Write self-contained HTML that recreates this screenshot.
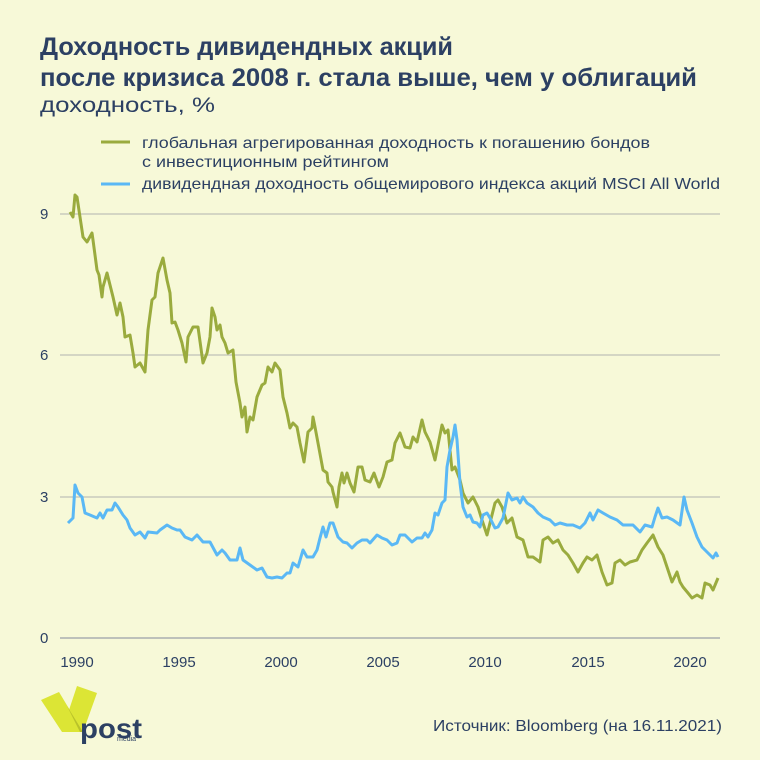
<!DOCTYPE html>
<html><head><meta charset="utf-8"><style>
body{margin:0;background:#f7f9d8;}
svg{display:block;font-family:"Liberation Sans","DejaVu Sans",sans-serif;}
</style></head><body>
<svg width="760" height="760" viewBox="0 0 760 760">
<rect width="760" height="760" fill="#f7f9d8"/>
<g fill="#2c4063">
<text x="40" y="55" font-size="25" font-weight="bold" textLength="413" lengthAdjust="spacingAndGlyphs">Доходность дивидендных акций</text>
<text x="40" y="86" font-size="25" font-weight="bold" textLength="657" lengthAdjust="spacingAndGlyphs">после кризиса 2008 г. стала выше, чем у облигаций</text>
<text x="40" y="112" font-size="21" textLength="175" lengthAdjust="spacingAndGlyphs">доходность, %</text>
<text x="142" y="148" font-size="16" textLength="508" lengthAdjust="spacingAndGlyphs">глобальная агрегированная доходность к погашению бондов</text>
<text x="142" y="167" font-size="16" textLength="247" lengthAdjust="spacingAndGlyphs">с инвестиционным рейтингом</text>
<text x="142" y="189" font-size="16" textLength="578" lengthAdjust="spacingAndGlyphs">дивидендная доходность общемирового индекса акций MSCI All World</text>
</g>
<line x1="101" y1="142" x2="130" y2="142" stroke="#9aab3e" stroke-width="3"/>
<line x1="101" y1="184" x2="130" y2="184" stroke="#5ab8f5" stroke-width="3"/>
<g stroke="#bfc2b8" stroke-width="1.3">
<line x1="60" y1="214" x2="720" y2="214"/>
<line x1="60" y1="355" x2="720" y2="355"/>
<line x1="60" y1="497" x2="720" y2="497"/>
<line x1="60" y1="638" x2="720" y2="638" stroke="#9aa0a8"/>
</g>
<g fill="#2c4063" font-size="15">
<text x="40" y="219">9</text><text x="40" y="360">6</text><text x="40" y="502">3</text><text x="40" y="643">0</text>
<g text-anchor="middle">
<text x="77" y="667">1990</text><text x="179" y="667">1995</text><text x="281" y="667">2000</text><text x="383" y="667">2005</text><text x="485" y="667">2010</text><text x="588" y="667">2015</text><text x="690" y="667">2020</text>
</g>
<text x="433" y="731" font-size="16" textLength="289" lengthAdjust="spacingAndGlyphs">Источник: Bloomberg (на 16.11.2021)</text>
</g>
<polyline fill="none" stroke="#9aab3e" stroke-width="3" stroke-linejoin="round" points="70,212 73,217 75,195 77,197 80,217 83,237 87,242 92,233 93,240 97,270 99,275 102,297 103,287 107,273 110,285 113,297 117,315 120,303 123,317 125,337 130,335 133,353 135,367 140,363 145,372 148,330 152,300 155,297 158,273 163,258 167,280 170,293 172,323 175,322 178,330 182,343 186,362 188,337 193,327 198,327 203,363 207,353 210,337 212,308 215,317 217,330 220,325 222,337 225,343 228,353 233,350 236,382 240,403 242,417 245,407 247,432 250,417 253,420 257,397 262,385 265,383 268,367 272,372 275,363 280,370 283,397 287,413 290,428 293,423 297,427 300,443 304,462 308,432 312,428 313,417 315,427 318,443 323,470 327,473 328,482 332,487 333,492 337,507 339,487 342,473 344,483 347,473 350,483 354,492 358,467 362,467 365,480 370,482 374,473 379,487 383,477 387,462 392,460 395,443 400,433 405,447 410,448 413,437 417,442 422,420 425,432 430,442 435,460 442,425 445,433 448,430 452,470 455,467 460,480 463,493 468,503 473,497 478,507 482,520 487,535 490,523 495,503 498,500 502,507 507,523 512,518 517,537 523,540 528,557 533,557 540,562 543,540 548,537 553,543 558,540 563,550 568,555 573,563 578,572 583,563 587,557 592,560 597,555 602,572 607,585 612,583 615,563 620,560 625,565 630,562 637,560 642,550 647,543 653,535 658,547 663,555 668,570 672,582 677,572 680,582 683,587 688,593 692,598 697,595 702,598 705,583 710,585 713,590 718,578"/>
<polyline fill="none" stroke="#5ab8f5" stroke-width="3" stroke-linejoin="round" points="68,523 73,518 75,485 78,493 82,497 85,513 90,515 97,518 100,513 103,518 107,510 112,510 115,503 118,507 123,515 127,520 130,528 135,535 140,532 145,538 148,532 157,533 160,530 167,525 172,528 177,530 180,530 185,537 192,540 197,535 203,542 210,542 217,555 222,550 225,553 230,560 237,560 240,548 243,560 250,565 257,570 262,568 267,577 272,578 277,577 282,578 287,573 290,573 293,563 298,567 303,550 307,557 313,557 317,550 320,538 323,527 326,537 330,523 333,523 338,537 343,542 347,543 352,548 357,543 362,540 367,540 370,543 377,535 382,538 387,540 392,545 397,543 400,535 405,535 412,542 417,538 422,538 425,533 428,537 432,530 435,513 438,515 442,503 445,500 447,467 450,450 453,437 455,425 457,440 460,483 463,507 467,517 470,515 473,522 477,523 480,527 483,515 487,513 490,518 495,528 498,527 503,518 508,493 512,500 517,498 520,503 523,497 527,503 533,507 538,513 543,517 550,520 555,525 560,523 567,525 573,525 580,528 585,523 590,513 593,520 598,510 603,513 610,517 617,520 623,525 633,525 640,532 645,525 652,527 655,517 658,508 662,518 667,517 673,520 680,525 684,497 687,510 692,523 697,537 702,547 708,553 713,558 716,553 718,557"/>
<polygon points="41,700 59,692 83,732 62,732" fill="#dce535"/>
<polygon points="77,686 97,693 83,732 69,710" fill="#dce535"/>
<polygon points="67,706 69,710 80,732 83,732" fill="#b9c22a"/>
<text x="80" y="738" font-size="28" font-weight="bold" fill="#2c4063" textLength="62" lengthAdjust="spacingAndGlyphs">post</text>
<text x="117" y="741" font-size="7" fill="#2c4063">media</text>
</svg>
</body></html>
